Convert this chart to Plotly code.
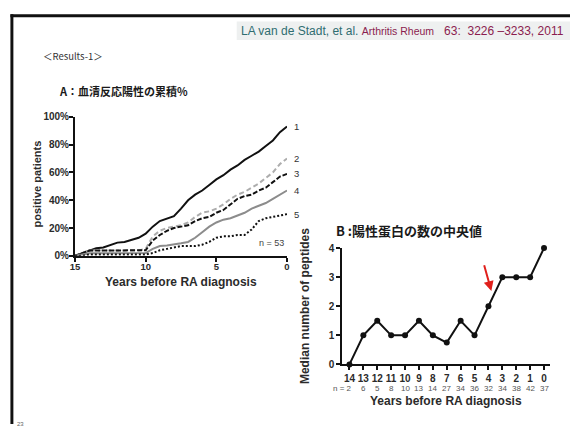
import plotly.graph_objects as go

# ---------------- Panel A: cumulative seropositivity (%) ----------------
years_a = [15, 14.5, 14, 13.5, 13, 12.5, 12, 11.5, 11, 10.5, 10, 9.5, 9, 8.5, 8,
           7.5, 7, 6.5, 6, 5.5, 5, 4.5, 4, 3.5, 3, 2.5, 2, 1.5, 1, 0.5, 0]
pos_1 = [0, 2, 4, 5.5, 6, 7.5, 9.5, 10, 11.5, 13, 16, 21, 25, 27, 28.5,
         34, 40, 44, 47, 51, 55, 58, 62, 65, 69, 72, 75, 79, 83, 89, 93]
pos_2 = [0, 1.9, 3.8, 3.8, 3.8, 3.8, 3.8, 3.8, 3.8, 3.8, 5, 14, 18, 20, 21,
         22, 24, 28, 31, 32, 34, 37, 41, 44, 46, 49, 52, 56, 60, 66, 70]
pos_3 = [0, 1.9, 3.8, 3.8, 3.8, 3.8, 3.8, 3.8, 3.8, 3.8, 4, 11, 15, 18, 20,
         21, 22, 25, 27, 28, 31, 33, 37, 41, 43, 44, 47, 49, 53, 57, 59]
pos_4 = [0, 1, 1.9, 1.9, 1.9, 1.9, 1.9, 1.9, 1.9, 1.9, 2, 5, 7, 7.5, 8,
         9, 10, 13, 17, 21, 24, 26, 27, 29, 31, 34, 36, 38, 41, 44, 47]
pos_5 = [0, 0, 1, 1, 1, 1, 1, 1, 1, 1, 1, 2, 4, 5, 6,
         7, 7, 7, 8, 10, 13, 14, 14, 15, 15, 19, 25, 27, 28, 29, 30]
series_names = ["1", "2", "3", "4", "5"]
a_xticks = [15, 10, 5, 0]
a_yticks = [0, 20, 40, 60, 80, 100]

# ---------------- Panel B: median number of peptides ----------------
years_b = [14, 13, 12, 11, 10, 9, 8, 7, 6, 5, 4, 3, 2, 1, 0]
median_peptides = [0, 1, 1.5, 1, 1, 1.5, 1, 0.75, 1.5, 1, 2, 3, 3, 3, 4]
n_patients = [2, 6, 5, 8, 10, 13, 14, 27, 34, 36, 32, 34, 38, 42, 37]
b_yticks = [0, 1, 2, 3, 4]

W, H = 573, 430
LATIN = "Liberation Sans, Arial, sans-serif"
CJK = "Noto Sans CJK JP, sans-serif"
INK = "#2b2b2b"


def px(x):
    return x / W


def py(y):
    return 1 - y / H


fig = go.Figure()

styles = [
    dict(color="#111111", width=2, dash="solid"),
    dict(color="#adadad", width=2, dash="5px,3px"),
    dict(color="#111111", width=2, dash="5px,2px"),
    dict(color="#8c8c8c", width=2, dash="solid"),
    dict(color="#111111", width=2, dash="2px,2px"),
]
for vals, st in zip([pos_1, pos_2, pos_3, pos_4, pos_5], styles):
    fig.add_trace(go.Scatter(x=years_a, y=vals, mode="lines", line=st,
                             xaxis="x", yaxis="y", showlegend=False,
                             cliponaxis=False, hoverinfo="skip"))

fig.add_trace(go.Scatter(x=years_b, y=median_peptides, mode="lines+markers",
                         line=dict(color="#111111", width=2),
                         marker=dict(color="#111111", size=6),
                         xaxis="x2", yaxis="y2", showlegend=False,
                         cliponaxis=False, hoverinfo="skip"))

axis_common = dict(showline=True, linecolor="#111111", linewidth=2,
                   ticks="outside", tickcolor="#111111", tickwidth=2,
                   showgrid=False, zeroline=False, fixedrange=True)

fig.update_layout(
    width=W, height=H,
    margin=dict(l=0, r=0, t=0, b=0),
    paper_bgcolor="white", plot_bgcolor="white",
    xaxis=dict(domain=[px(71), px(286)], range=[15, 0], anchor="y",
               tickvals=a_xticks, ticktext=[f"<b>{v}</b>" for v in a_xticks],
               tickfont=dict(family=LATIN, size=9.5, color=INK), ticklen=4,
               ticklabelstandoff=-3, **axis_common),
    yaxis=dict(domain=[py(257), py(114)], range=[0, 100], anchor="x",
               tickvals=a_yticks, ticktext=[f"<b>{v}%</b>" for v in a_yticks],
               tickfont=dict(family=LATIN, size=10, color=INK), ticklen=4,
               ticklabelstandoff=-2, **axis_common),
    xaxis2=dict(domain=[px(342), px(553)], range=[14.52, -0.45], anchor="y2",
                tickvals=years_b, ticktext=[f"<b>{v}</b>" for v in years_b],
                tickfont=dict(family=LATIN, size=10, color=INK), ticklen=4,
                **axis_common),
    yaxis2=dict(domain=[py(368.7), py(249)], range=[0, 4], anchor="x2",
                tickvals=b_yticks, ticktext=[f"<b>{v}</b>" for v in b_yticks],
                tickfont=dict(family=LATIN, size=10, color=INK), ticklen=4,
                **axis_common),
)

# slide frame (top and left edges, drawn as thin filled bars) and citation band
fig.add_shape(type="rect", xref="paper", yref="paper",
              x0=px(5.5), x1=1, y0=py(11.5), y1=py(8.5),
              line=dict(width=0), fillcolor="#111111", layer="above")
fig.add_shape(type="rect", xref="paper", yref="paper",
              x0=px(5.5), x1=px(8.5), y0=0, y1=py(8.5),
              line=dict(width=0), fillcolor="#111111", layer="above")
fig.add_shape(type="rect", xref="paper", yref="paper",
              x0=px(235), x1=1, y0=py(16), y1=py(35),
              line=dict(width=0), fillcolor="#eef0f0", layer="below")

ann = []
ann.append(dict(xref="paper", yref="paper", x=px(569), y=py(25.5),
                xanchor="right", yanchor="middle", showarrow=False,
                text=('<span style="color:#2f6d70">LA van de Stadt, et al. </span>'
                      '<span style="color:#8b1d4f;font-size:10.5px">Arthritis Rheum</span>'
                      '<span style="color:#8b1d4f">&nbsp;&nbsp; 63:&nbsp; 3226 \u20133233, 2011</span>'),
                font=dict(family=LATIN, size=12)))
ann.append(dict(xref="paper", yref="paper", x=px(37), y=py(51),
                xanchor="left", yanchor="middle", showarrow=False,
                text="\uff1cResults-1\uff1e",
                font=dict(family=CJK, size=9.5, color="#333333")))
ann.append(dict(xref="paper", yref="paper", x=px(53), y=py(87),
                xanchor="left", yanchor="middle", showarrow=False,
                text="<b>A\uff1a血清反応陽性の累積%</b>",
                font=dict(family=CJK, size=11, color="#1a1a1a")))
ann.append(dict(xref="paper", yref="paper", x=px(334), y=py(231),
                xanchor="left", yanchor="middle", showarrow=False,
                text="<b>B :陽性蛋白の数の中央値</b>",
                font=dict(family=CJK, size=13, color="#1a1a1a")))

# panel A titles and labels
ann.append(dict(xref="paper", yref="paper", x=px(32), y=py(183),
                xanchor="center", yanchor="middle", showarrow=False,
                text="<b>positive patients</b>", textangle=-90,
                font=dict(family=LATIN, size=11, color=INK)))
ann.append(dict(xref="paper", yref="paper", x=px(178), y=py(284),
                xanchor="center", yanchor="middle", showarrow=False,
                text="<b>Years before RA diagnosis</b>",
                font=dict(family=LATIN, size=12, color=INK)))
ann.append(dict(xref="x", yref="y", x=1.1, y=9, xanchor="center",
                yanchor="middle", showarrow=False, text="n = 53",
                font=dict(family=LATIN, size=9, color="#444444")))
for name, vals in zip(series_names, [pos_1, pos_2, pos_3, pos_4, pos_5]):
    ann.append(dict(xref="x", yref="y", x=0, y=vals[-1], xanchor="left",
                    yanchor="middle", xshift=5, showarrow=False, text=name,
                    font=dict(family=LATIN, size=9.5, color="#333333")))

# panel B titles and labels
ann.append(dict(xref="paper", yref="paper", x=px(305), y=py(309),
                xanchor="center", yanchor="middle", showarrow=False,
                text="<b>Median number of peptides</b>", textangle=-90,
                font=dict(family=LATIN, size=12, color=INK)))
ann.append(dict(xref="paper", yref="paper", x=px(447), y=py(406),
                xanchor="center", yanchor="middle", showarrow=False,
                text="<b>Years before RA diagnosis</b>",
                font=dict(family=LATIN, size=12, color=INK)))
for i, (yr, n) in enumerate(zip(years_b, n_patients)):
    txt = f"n = {n}" if i == 0 else str(n)
    ann.append(dict(xref="x2", yref="paper", x=yr, y=py(393),
                    xanchor="right" if i == 0 else "center", yanchor="middle",
                    xshift=5 if i == 0 else 0, showarrow=False, text=txt,
                    font=dict(family=LATIN, size=8, color="#555555")))

# red arrow marking the rise at 4 years
ann.append(dict(xref="x2", yref="y2", x=3.79, y=2.52, ax=-7.6, ay=-27.3,
                axref="pixel", ayref="pixel", text="", showarrow=True,
                arrowhead=2, arrowsize=1, arrowwidth=2, arrowcolor="#e0201c"))

# page number
ann.append(dict(xref="paper", yref="paper", x=px(16), y=py(425),
                xanchor="center", yanchor="top", showarrow=False, text="23",
                font=dict(family=LATIN, size=6, color="#666666")))

fig.update_layout(annotations=ann)
fig.write_html("out.html")
